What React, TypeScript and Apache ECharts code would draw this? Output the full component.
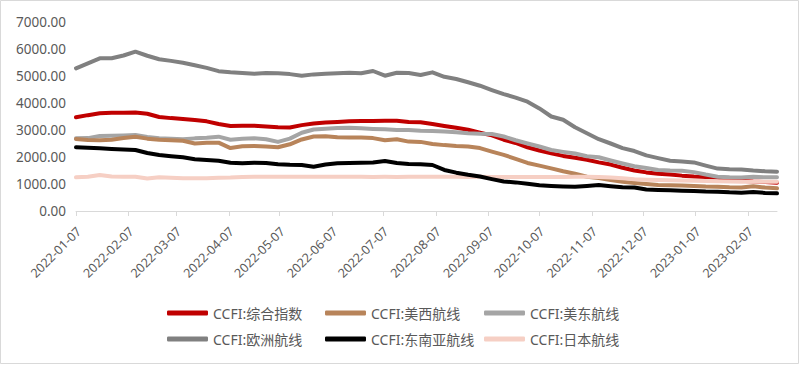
import React, { useEffect, useRef } from "react";
import * as echarts from "echarts";

const dates = [
  "2022-01-07", "2022-01-14", "2022-01-21", "2022-01-28", "2022-02-04", "2022-02-11", "2022-02-18", "2022-02-25",
  "2022-03-04", "2022-03-11", "2022-03-18", "2022-03-25", "2022-04-01", "2022-04-08", "2022-04-15", "2022-04-22",
  "2022-04-29", "2022-05-06", "2022-05-13", "2022-05-20", "2022-05-27", "2022-06-03", "2022-06-10", "2022-06-17",
  "2022-06-24", "2022-07-01", "2022-07-08", "2022-07-15", "2022-07-22", "2022-07-29", "2022-08-05", "2022-08-12",
  "2022-08-19", "2022-08-26", "2022-09-02", "2022-09-09", "2022-09-16", "2022-09-23", "2022-09-30", "2022-10-07",
  "2022-10-14", "2022-10-21", "2022-10-28", "2022-11-04", "2022-11-11", "2022-11-18", "2022-11-25", "2022-12-02",
  "2022-12-09", "2022-12-16", "2022-12-23", "2022-12-30", "2023-01-06", "2023-01-13", "2023-01-20", "2023-01-27",
  "2023-02-03", "2023-02-10", "2023-02-17", "2023-02-24",
];

const tickDates = [
  "2022-01-07", "2022-02-07", "2022-03-07", "2022-04-07", "2022-05-07", "2022-06-07", "2022-07-07",
  "2022-08-07", "2022-09-07", "2022-10-07", "2022-11-07", "2022-12-07", "2023-01-07", "2023-02-07",
];

const composite = [
  3469, 3550, 3620, 3640, 3640, 3645, 3600, 3480, 3440, 3410, 3370, 3320, 3220, 3150, 3160, 3160,
  3130, 3100, 3090, 3180, 3240, 3280, 3300, 3320, 3330, 3333, 3340, 3346, 3300, 3284, 3222, 3150,
  3080, 3010, 2900, 2800, 2640, 2520, 2360, 2240, 2136, 2040, 1970, 1900, 1800, 1720, 1600, 1500,
  1430, 1380, 1350, 1310, 1280, 1260, 1230, 1170, 1120, 1090, 1070, 1050,
];
const usWest = [
  2667, 2630, 2620, 2640, 2700, 2753, 2680, 2640, 2620, 2600, 2500, 2530, 2530, 2330, 2400, 2407,
  2390, 2360, 2470, 2650, 2760, 2770, 2728, 2720, 2720, 2700, 2620, 2660, 2570, 2560, 2481, 2440,
  2410, 2390, 2330, 2200, 2080, 1930, 1780, 1680, 1580, 1470, 1380, 1270, 1220, 1150, 1080, 1040,
  1000, 963, 950, 940, 930, 905, 900, 880, 870, 914, 870, 839,
];
const usEast = [
  2691, 2700, 2778, 2790, 2800, 2815, 2740, 2691, 2680, 2654, 2690, 2716, 2753, 2640, 2680, 2691,
  2660, 2560, 2680, 2900, 3020, 3050, 3070, 3086, 3062, 3040, 3025, 3000, 3000, 2975, 2962, 2940,
  2920, 2880, 2860, 2852, 2760, 2620, 2500, 2390, 2259, 2190, 2130, 2030, 1990, 1870, 1760, 1660,
  1590, 1520, 1500, 1490, 1440, 1350, 1272, 1250, 1245, 1265, 1250, 1247,
];
const europe = [
  5285, 5470, 5655, 5655, 5760, 5900, 5750, 5620, 5560, 5490, 5400, 5300, 5180, 5140, 5110, 5080,
  5110, 5100, 5070, 5011, 5060, 5086, 5100, 5120, 5100, 5185, 5011, 5120, 5110, 5037, 5135, 4970,
  4890, 4770, 4640, 4480, 4330, 4200, 4050, 3800, 3500, 3380, 3100, 2880, 2660, 2500, 2330, 2220,
  2060, 1960, 1860, 1830, 1800, 1680, 1570, 1550, 1540, 1500, 1470, 1457,
];
const seAsia = [
  2358, 2345, 2321, 2300, 2280, 2259, 2150, 2074, 2030, 1988, 1920, 1889, 1864, 1790, 1765, 1790,
  1780, 1728, 1710, 1704, 1642, 1720, 1765, 1780, 1790, 1800, 1852, 1780, 1741, 1728, 1704, 1520,
  1420, 1340, 1280, 1180, 1090, 1060, 1010, 950, 926, 910, 901, 930, 960, 920, 880, 870,
  800, 778, 765, 750, 740, 720, 710, 690, 680, 700, 670, 654,
];
const japan = [
  1247, 1270, 1333, 1280, 1272, 1270, 1200, 1250, 1230, 1210, 1210, 1215, 1230, 1240, 1260, 1272,
  1270, 1272, 1265, 1268, 1270, 1272, 1270, 1268, 1265, 1262, 1265, 1262, 1265, 1268, 1270, 1268,
  1265, 1262, 1265, 1262, 1260, 1262, 1260, 1258, 1260, 1262, 1265, 1268, 1260, 1240, 1210, 1180,
  1160, 1148, 1140, 1130, 1123, 1110, 1100, 1090, 1086, 1086, 1086, 1086,
];

const seriesNames = ["CCFI:综合指数", "CCFI:美西航线", "CCFI:美东航线", "CCFI:欧洲航线", "CCFI:东南亚航线", "CCFI:日本航线"];
const seriesValues = [composite, usWest, usEast, europe, seAsia, japan];
const seriesColors = ["#C00000", "#B8845A", "#A5A5A5", "#808080", "#000000", "#F6CFC4"];

function toTs(s: string): number {
  const [y, m, d] = s.split("-").map(Number);
  return Date.UTC(y, m - 1, d);
}
function pad(n: number): string {
  return n < 10 ? "0" + n : "" + n;
}
function fmt(ts: number): string {
  const d = new Date(ts);
  return d.getUTCFullYear() + "-" + pad(d.getUTCMonth() + 1) + "-" + pad(d.getUTCDate());
}

const legendPos = [
  [167, 306], [325, 306], [484, 306],
  [167, 332], [325, 332], [484, 332],
];

export default function App() {
  const ref = useRef<HTMLDivElement>(null);
  useEffect(() => {
    document.body.style.margin = "0";
    const chart = echarts.init(ref.current!, null, { renderer: "svg" });
    const font = "'Noto Sans', 'Noto Sans CJK SC', sans-serif";
    const ticks = tickDates.map(toTs);
    const drawOrder = [3, 0, 2, 1, 5, 4];
    const option: any = {
      animation: false,
      backgroundColor: "#ffffff",
      textStyle: { fontFamily: font },
      grid: { left: 76, right: 23, top: 22, bottom: 154, containLabel: false },
      xAxis: {
        type: "value",
        min: toTs(dates[0]),
        max: toTs(dates[dates.length - 1]),
        scale: true,
        axisLine: { show: true, lineStyle: { color: "#D9D9D9", width: 1 } },
        axisTick: { show: true, length: 5, lineStyle: { color: "#D9D9D9" }, customValues: ticks },
        splitLine: { show: false },
        axisLabel: {
          customValues: ticks,
          rotate: 45,
          margin: 21,
          padding: [0, -4, 0, 0],
          color: "#595959",
          fontSize: 12.5,
          fontFamily: font,
          formatter: (v: number) => fmt(v),
          hideOverlap: false,
        },
      },
      yAxis: {
        type: "value",
        min: 0,
        max: 7000,
        interval: 1000,
        axisLine: { show: false },
        axisTick: { show: false },
        splitLine: { show: false },
        axisLabel: {
          color: "#595959",
          fontSize: 13.5,
          fontFamily: font,
          margin: 10,
          formatter: (v: number) => v.toFixed(2),
        },
      },
      legend: legendPos.map((p, i) => ({
        data: [seriesNames[i]],
        left: p[0],
        top: p[1],
        padding: 0,
        itemGap: 0,
        itemWidth: 41,
        itemHeight: 5,
        icon: "roundRect",
        textStyle: { color: "#595959", fontSize: 14, fontFamily: font },
      })),
      graphic: [
        {
          type: "rect",
          shape: { x: 0.5, y: 0.5, width: 798, height: 363 },
          style: { fill: "none", stroke: "#D9D9D9", lineWidth: 1 },
          silent: true,
        },
      ],
      series: drawOrder.map((i) => ({
        name: seriesNames[i],
        type: "line",
        data: dates.map((d, k) => [toTs(d), seriesValues[i][k]]),
        showSymbol: false,
        symbol: "none",
        lineStyle: { color: seriesColors[i], width: 4, cap: "round", join: "round" },
        itemStyle: { color: seriesColors[i] },
        z: 2,
      })),
    };
    chart.setOption(option);
    return () => chart.dispose();
  }, []);
  return <div ref={ref} style={{ width: 800, height: 365 }} />;
}
